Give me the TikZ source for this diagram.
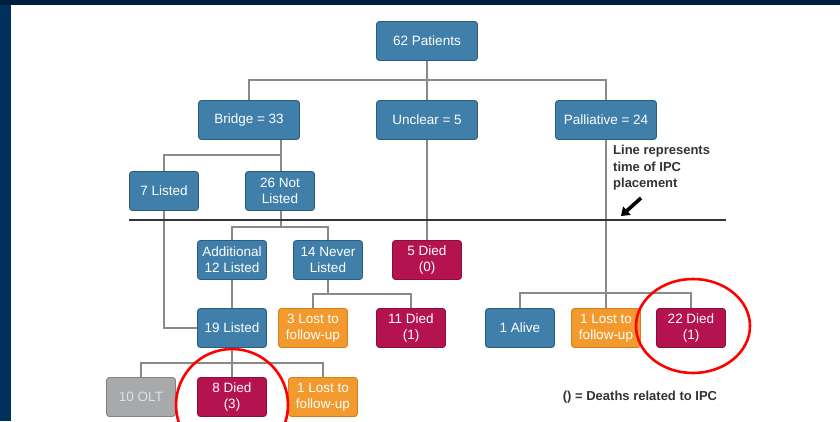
\documentclass[tikz,border=0pt]{standalone}
\usepackage{fontspec}
\setmainfont{Liberation Sans}
\usetikzlibrary{arrows.meta}

\definecolor{navytop}{HTML}{001E40}
\definecolor{navyside}{HTML}{00305B}
\definecolor{boxblue}{HTML}{3F7FAA}
\definecolor{boxblueedge}{HTML}{2C5C7E}
\definecolor{boxorange}{HTML}{F39A2F}
\definecolor{boxorangeedge}{HTML}{D57E1C}
\definecolor{boxred}{HTML}{B5134F}
\definecolor{boxrededge}{HTML}{8A0F3B}
\definecolor{boxgray}{HTML}{A7A9AB}
\definecolor{boxgrayedge}{HTML}{808284}
\definecolor{linkgray}{HTML}{8A8A8A}

\begin{document}
\begin{tikzpicture}[x=1pt, y=-1pt,
    box/.style={rectangle, rounded corners=3pt, line width=0.9pt, minimum width=69pt, minimum height=39pt, inner sep=1pt, align=center, text=white, font=\fontsize{13.5}{16}\selectfont},
    wide/.style={minimum width=101pt},
    bluebox/.style={box, fill=boxblue, draw=boxblueedge},
    orangebox/.style={box, fill=boxorange, draw=boxorangeedge},
    redbox/.style={box, fill=boxred, draw=boxrededge},
    graybox/.style={box, fill=boxgray, draw=boxgrayedge, text=white!88!black},
    link/.style={draw=linkgray, line width=1.2pt},
    note/.style={inner sep=0pt, align=left, text=black!80, font=\bfseries\fontsize{13}{16.5}\selectfont},
    ring/.style={draw=red, line width=2.6pt}]
    \useasboundingbox (0,0) rectangle (840,421);
    \fill[white] (0,0) rectangle (840,421);
    \fill[navytop] (0,0) rectangle (840,5);
    \fill[navyside] (0,5) rectangle (11,421);

    % first level
    \node[bluebox, wide] (patients) at (427,41) {62 Patients};
    \node[bluebox, wide] (bridge) at (249,120) {Bridge = 33};
    \node[bluebox, wide] (unclear) at (427,120) {Unclear = 5};
    \node[bluebox, wide] (palliative) at (606,120) {Palliative = 24};

    % bridge branch, before IPC
    \node[bluebox] (listed7) at (164,191) {7 Listed};
    \node[bluebox] (notlisted) at (280,191) {26 Not\\Listed};

    % after IPC
    \node[bluebox] (addlisted) at (232,260) {Additional\\12 Listed};
    \node[bluebox] (neverlisted) at (328,260) {14 Never\\Listed};
    \node[redbox] (died5) at (427,260) {5 Died\\(0)};

    \node[bluebox] (listed19) at (232,328) {19 Listed};
    \node[orangebox] (lost3) at (313,328) {3 Lost to\\follow-up};
    \node[redbox] (died11) at (411,328) {11 Died\\(1)};
    \node[bluebox] (alive1) at (520,328) {1 Alive};
    \node[orangebox] (lostpal) at (606,328) {1 Lost to\\follow-up};
    \node[redbox] (died22) at (691,328) {22 Died\\(1)};

    \node[graybox] (olt) at (141,397) {10 OLT};
    \node[redbox] (died8) at (232,397) {8 Died\\(3)};
    \node[orangebox] (lostbr) at (323,397) {1 Lost to\\follow-up};

    % split points
    \coordinate (topsplit) at (427,80);
    \coordinate (bridgesplit) at (281,155);
    \coordinate (notlistedsplit) at (281,227);
    \coordinate (neversplit) at (328,294);
    \coordinate (palsplit) at (606,293);
    \coordinate (listedsplit) at (232,363);

    \draw[link] (patients) -- (unclear);
    \draw[link] (bridge.north) |- (topsplit) -| (palliative.north);
    \draw[link] (bridge.south -| bridgesplit) -- (bridgesplit);
    \draw[link] (listed7.north) |- (bridgesplit) -- (notlisted.north -| bridgesplit);
    \draw[link] (notlisted.south -| notlistedsplit) -- (notlistedsplit);
    \draw[link] (addlisted.north) |- (notlistedsplit) -| (neverlisted.north);
    \draw[link] (listed7.south) |- (listed19.west);
    \draw[link] (addlisted) -- (listed19);
    \draw[link] (unclear) -- (died5);
    \draw[link] (neverlisted) -- (neversplit);
    \draw[link] (lost3.north) |- (neversplit) -| (died11.north);
    \draw[link] (palliative) -- (palsplit);
    \draw[link] (alive1.north) |- (palsplit) -| (died22.north);
    \draw[link] (palsplit) -- (lostpal);
    \draw[link] (listed19) -- (listedsplit);
    \draw[link] (olt.north) |- (listedsplit) -| (lostbr.north);
    \draw[link] (listedsplit) -- (died8);

    % time of IPC placement
    \coordinate (ipcleft) at (129,220);
    \coordinate (ipcright) at (726,220);
    \draw[black!80, line width=1.8pt] (ipcleft) -- (ipcright);
    \node[note, anchor=north west] (ipcnote) at (613,145) {Line represents\\time of IPC\\placement};
    \coordinate (arrowtail) at (641,198);
    \coordinate (arrowtip) at (621,216);
    \draw[black, line width=3.6pt, -{Triangle[length=8pt, width=11pt]}] (arrowtail) -- (arrowtip);

    \node[note] (legend) at (640,397) {() = Deaths related to IPC};

    % highlighted groups
    \draw[ring] (232,405) ellipse (56 and 56);
    \draw[ring] (693,326) ellipse (57 and 47);
\end{tikzpicture}
\end{document}
